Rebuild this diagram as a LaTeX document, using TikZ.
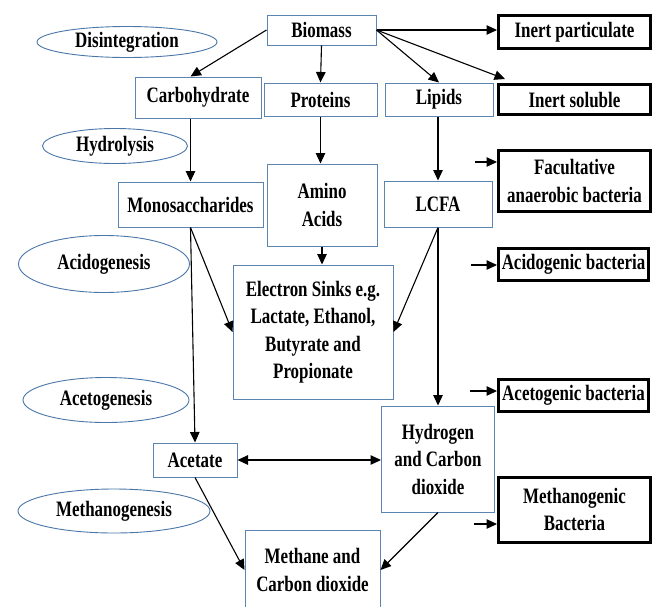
\documentclass[tikz,border=0pt]{standalone}
\usepackage{fontspec}
\setmainfont[FakeStretch=0.77]{Liberation Serif}
\usetikzlibrary{shapes.geometric,arrows.meta,calc}
\definecolor{boxblue}{HTML}{5B84B1}
\definecolor{ellblue}{HTML}{4A76A8}
\begin{document}
\begin{tikzpicture}[x=1pt,y=-1pt,
  every node/.style={font=\fontsize{22}{27.5}\selectfont\bfseries, align=center, inner sep=0pt},
  bx/.style={draw=boxblue, line width=1pt, rectangle},
  bact/.style={draw=black, line width=3pt, rectangle},
  stage/.style={draw=ellblue, line width=0.9pt, ellipse},
  arr/.style={line width=1.1pt, -{Triangle[length=10.5pt,width=9.5pt]}},
  darr/.style={line width=1.1pt, {Triangle[length=10.5pt,width=9.5pt]}-{Triangle[length=10.5pt,width=9.5pt]}}]
\useasboundingbox (0,0) rectangle (655,606);
% process boxes
\node[bx, minimum width=109pt, minimum height=30pt] (biomass) at (321.5,30) {Biomass};
\node[bx, minimum width=126pt, minimum height=41pt] (carb) at (198,97.5) {Carbohydrate};
\node[bx, minimum width=113pt, minimum height=33pt] (prot) at (320.5,99.5) {Proteins};
\node[bx, minimum width=108pt, minimum height=33pt] (lipids) at (439,99.5) {Lipids};
\node[bx, minimum width=145pt, minimum height=45pt] (mono) at (190.5,204.5) {Monosaccharides};
\node[bx, minimum width=110pt, minimum height=82pt] (amino) at (322,205) {Amino\\Acids};
\node[bx, minimum width=108pt, minimum height=46pt] (lcfa) at (438,204) {LCFA};
\node[bx, minimum width=160pt, minimum height=134pt] (esinks) at (313,332) {Electron Sinks e.g.\\Lactate, Ethanol,\\Butyrate and\\Propionate};
\node[bx, minimum width=113pt, minimum height=106pt] (hydro) at (438,459) {Hydrogen\\and Carbon\\dioxide};
\node[bx, minimum width=84pt, minimum height=34pt] (acetate) at (195,460) {Acetate};
\node[bx, minimum width=135pt, minimum height=80pt] (methane) at (312.5,570) {Methane and\\Carbon dioxide};
% bacteria / inert boxes
\node[bact, minimum width=152pt, minimum height=33pt] (inertp) at (574.5,32) {Inert particulate};
\node[bact, minimum width=152pt, minimum height=30pt] (inerts) at (574.5,99.5) {Inert soluble};
\node[bact, minimum width=152pt, minimum height=61pt] (facult) at (574.5,181) {Facultative\\anaerobic bacteria};
\node[bact, minimum width=150pt, minimum height=32pt] (acidob) at (573.5,264.5) {Acidogenic bacteria};
\node[bact, minimum width=150pt, minimum height=32pt] (acetob) at (573.5,395.5) {Acetogenic bacteria};
\node[bact, minimum width=152pt, minimum height=65pt] (methb) at (574.5,509.5) {Methanogenic\\Bacteria};
% stage ellipses
\node[stage, minimum width=180pt, minimum height=31pt] (disint) at (127,42) {Disintegration};
\node[stage, minimum width=145pt, minimum height=35pt] (hydrol) at (115,146) {Hydrolysis};
\node[stage, minimum width=171pt, minimum height=57pt] (acidog) at (104,264) {Acidogenesis};
\node[stage, minimum width=166pt, minimum height=45pt] (acetog) at (106,400) {Acetogenesis};
\node[stage, minimum width=192pt, minimum height=44pt] (methanog) at (114,511) {Methanogenesis};
% free ends
\coordinate (insTop) at ($(inerts.north west)+(8,-4)$);
\coordinate (fa) at (475,162);
\coordinate (ac) at (471,265);
\coordinate (at) at (470,391);
\coordinate (me) at (474,524);
% connectors
\draw[arr] (biomass.west) -- (carb.north -| mono.north);
\draw[arr] (biomass.south) -- (prot.north);
\draw[arr] (biomass.east) -- (lipids.north);
\draw[arr] (biomass.east) -- (biomass.east -| inertp.west);
\draw[arr] (biomass.east) -- (insTop);
\draw[arr] (carb.south -| mono.north) -- (mono.north);
\draw[arr] (prot.south) -- (prot.south |- amino.north);
\draw[arr] (lipids.south -| lcfa.north) -- (lcfa.north);
\draw[arr] (amino.south) -- (amino.south |- esinks.north);
\draw[arr] (mono.south) -- (esinks.west);
\draw[arr] (mono.south) -- (acetate.north);
\draw[arr] (lcfa.south) -- (esinks.east);
\draw[arr] (lcfa.south) -- (hydro.north);
\draw[darr] (acetate.east) -- (acetate.east -| hydro.west);
\draw[arr] (acetate.south) -- (methane.west);
\draw[arr] (hydro.south) -- (methane.east);
\draw[arr] (fa) -- (fa -| facult.west);
\draw[arr] (ac) -- (ac -| acidob.west);
\draw[arr] (at) -- (at -| acetob.west);
\draw[arr] (me) -- (me -| methb.west);
\end{tikzpicture}
\end{document}
